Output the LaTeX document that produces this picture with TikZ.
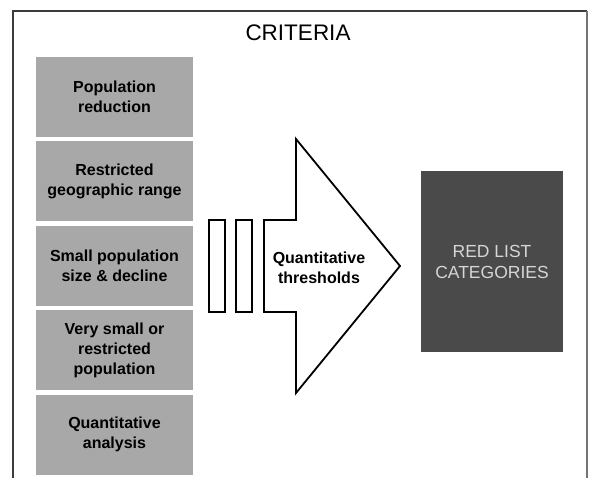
\documentclass[tikz,border=0pt]{standalone}
\usepackage{fontspec}
\setmainfont{Liberation Sans}
\usepackage{tikz}
\usetikzlibrary{positioning}
\definecolor{critgray}{RGB}{168,168,168}
\definecolor{catdark}{RGB}{74,74,74}
\definecolor{cattext}{RGB}{214,214,214}
\definecolor{framegray}{RGB}{60,60,60}

\begin{document}
\begin{tikzpicture}[
  x=1pt, y=-1pt,
  crit/.style={rectangle, fill=critgray, draw=none, align=center,
               minimum width=157pt, minimum height=80pt, inner sep=2pt,
               font=\fontsize{16}{20}\selectfont\bfseries},
  bar/.style={rectangle, draw=black, line width=1.8pt, fill=white,
              minimum width=16pt, minimum height=92pt, inner sep=0pt},
  cat/.style={rectangle, fill=catdark, draw=none, align=center, text=cattext,
              minimum width=142pt, minimum height=181pt,
              font=\fontsize{17.5}{21}\selectfont}]

  \useasboundingbox[fill=white] (0,0) rectangle (591,478);

  % ---------- frame and title ----------
  \draw[framegray, line width=1.2pt] (13,478) -- (13,11) -- (587,11);
  \draw[black!55, line width=1.8pt] (587,11) -- (587,478);
  \node[font=\fontsize{22.5}{26}\selectfont] (title) at (298,33) {CRITERIA};

  % ---------- criteria column ----------
  \node[crit] (red)  at (114.5,97) {Population\\reduction};
  \node[crit, below=4pt of red]  (geo)  {Restricted\\geographic range};
  \node[crit, below=4pt of geo]  (dec)  {Small population\\size \& decline};
  \node[crit, below=4pt of dec]  (tiny) {Very small or\\restricted\\population};
  \node[crit, below=4pt of tiny] (quant) {Quantitative\\analysis};

  % ---------- thresholds arrow ----------
  \node[bar] (bar1) at (217,266) {};
  \node[bar] (bar2) at (244,266) {};
  \draw[line width=1.8pt, fill=white, line join=miter]
    (264,220) -- (296,220) -- (296,139) -- (400,266)
    -- (296,393) -- (296,312) -- (264,312) -- cycle;
  \node[align=center, font=\fontsize{16}{20}\selectfont\bfseries] (thr) at (319,268)
    {Quantitative\\thresholds};

  % ---------- categories ----------
  \node[cat] (cats) at (492,261.5) {RED LIST\\CATEGORIES};

\end{tikzpicture}
\end{document}
